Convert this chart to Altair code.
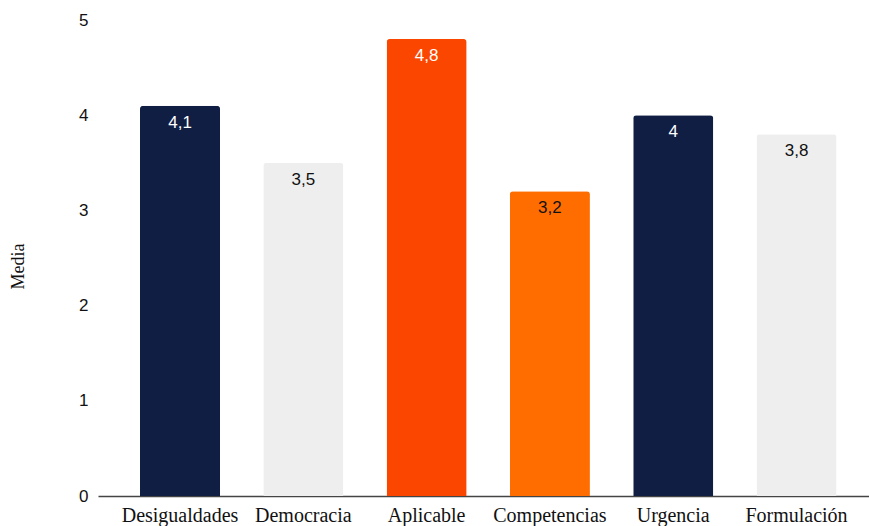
import altair as alt
import pandas as pd

categorias = ["Desigualdades", "Democracia", "Aplicable", "Competencias", "Urgencia", "Formulación"]
medias = [4.1, 3.5, 4.8, 3.2, 4.0, 3.8]
etiquetas = ["4,1", "3,5", "4,8", "3,2", "4", "3,8"]
colores = ["#111e43", "#eeeeee", "#fb4600", "#ff6d00", "#111e43", "#eeeeee"]
color_texto = ["#ffffff", "#111111", "#ffffff", "#111111", "#ffffff", "#111111"]

df = pd.DataFrame({
    "cat": categorias,
    "media": medias,
    "label": etiquetas,
    "color": colores,
    "tcolor": color_texto,
})

x = alt.X("cat:N", sort=categorias,
          scale=alt.Scale(paddingInner=0.351, paddingOuter=0.302, align=0.564),
          axis=alt.Axis(title=None, labelAngle=0, labelFont="Liberation Serif", labelFontSize=20,
                        labelColor="#111111", labelPadding=9, ticks=False,
                        domainColor="#444444", domainWidth=1.5))
y = alt.Y("media:Q", scale=alt.Scale(domain=[0, 5], nice=False),
          axis=alt.Axis(title="Media", values=[0, 1, 2, 3, 4, 5], format="d", grid=False, domain=False,
                        ticks=False,
                        labelFont="Liberation Sans", labelFontSize=17, labelColor="#111111",
                        labelPadding=10, titleFont="Liberation Serif", titleFontSize=18,
                        titleFontWeight="normal", titleColor="#111111", titleX=-71, titleY=246))

bars = alt.Chart(df).mark_bar(cornerRadiusTopLeft=3, cornerRadiusTopRight=3).encode(
    x=x, y=y, color=alt.Color("color:N", scale=None))

text = alt.Chart(df).mark_text(baseline="middle", dy=17, font="Liberation Sans", fontSize=17).encode(
    x=alt.X("cat:N", sort=categorias), y="media:Q", text="label:N",
    color=alt.Color("tcolor:N", scale=None))

chart = alt.layer(bars, text).properties(
    width=771, height=476,
    padding={"left": 98, "top": 20, "right": 0, "bottom": 30},
    autosize=alt.AutoSizeParams(type="none"),
    background="#ffffff",
).configure_view(stroke=None)

chart.save("out.html", embed_options={"renderer": "svg", "actions": False})
